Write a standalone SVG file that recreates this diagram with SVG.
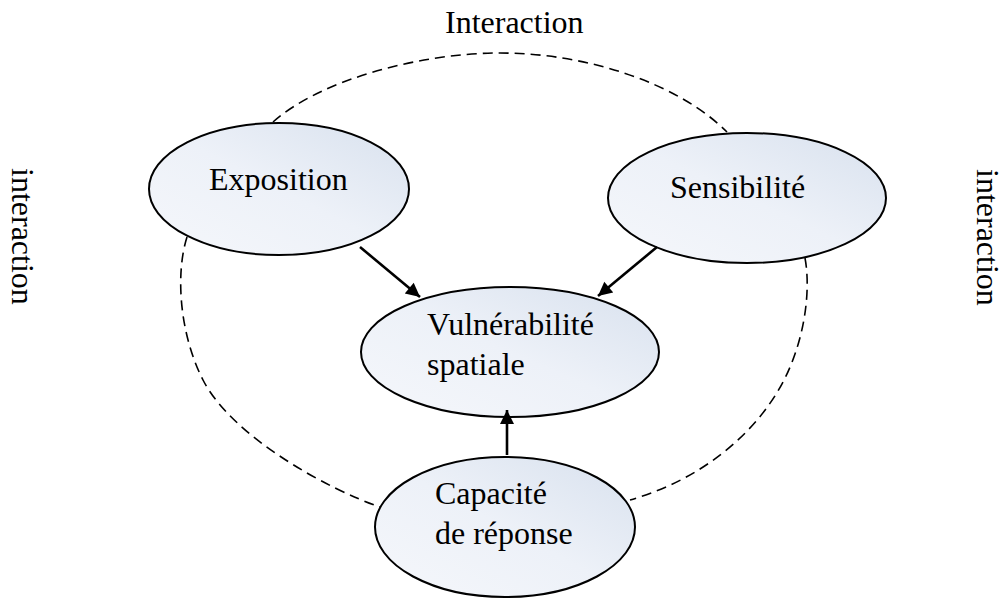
<svg xmlns="http://www.w3.org/2000/svg" width="1006" height="599" viewBox="0 0 1006 599">
<defs>
<style>
.node{stroke:#000;stroke-width:2;fill:url(#g)}
.lbl{font-family:"Liberation Serif","Times New Roman",serif;font-size:32px;fill:#000}
.dash{fill:none;stroke:#000;stroke-width:1.6;stroke-dasharray:10 6}
.arr{stroke:#000;stroke-width:2.6;fill:none;marker-end:url(#ah)}
</style>
<linearGradient id="g" x1="0" y1="1" x2="1" y2="0">
<stop offset="0" stop-color="#f5f7fb"/>
<stop offset="0.5" stop-color="#edf1f8"/>
<stop offset="1" stop-color="#d8e1ee"/>
</linearGradient>
<marker id="ah" viewBox="0 0 10 10" refX="10" refY="5" markerUnits="userSpaceOnUse" markerWidth="16" markerHeight="14" orient="auto">
<path d="M0,0 L10,5 L0,10 z" fill="#000"/>
</marker>
</defs>
<rect width="1006" height="599" fill="#fff"/>
<g id="connectors">
<path class="dash" d="M273,122 C320,80 420,53 500,53 C590,53 680,85 727,132"/>
<path class="dash" d="M187,237 C175,275 180,335 203,380 C233,438 330,490 380,507"/>
<path class="dash" d="M805,258 C811,290 805,340 783,382 C755,435 700,480 630,500"/>
</g>
<g id="node-exposition">
<ellipse class="node" cx="279" cy="189" rx="130" ry="66"/>
<text class="lbl" x="209" y="190">Exposition</text>
</g>
<g id="node-sensibilite">
<ellipse class="node" cx="747" cy="198" rx="139" ry="65"/>
<text class="lbl" x="670" y="198">Sensibilité</text>
</g>
<g id="node-vulnerabilite">
<ellipse class="node" cx="510" cy="352" rx="149" ry="65"/>
<text class="lbl" x="427" y="335">Vulnérabilité</text>
<text class="lbl" x="427" y="375">spatiale</text>
</g>
<g id="node-capacite">
<ellipse class="node" cx="505" cy="527" rx="130" ry="70"/>
<text class="lbl" x="435" y="504">Capacité</text>
<text class="lbl" x="435" y="544">de réponse</text>
</g>
<g id="arrows">
<line class="arr" x1="360" y1="247" x2="420" y2="297"/>
<line class="arr" x1="657" y1="247" x2="598" y2="296"/>
<line class="arr" x1="507" y1="455" x2="507" y2="410"/>
</g>
<g id="labels">
<text class="lbl" x="445" y="33">Interaction</text>
<text class="lbl" transform="translate(12,168) rotate(90)">interaction</text>
<text class="lbl" transform="translate(977,169) rotate(90)">interaction</text>
</g>
</svg>
